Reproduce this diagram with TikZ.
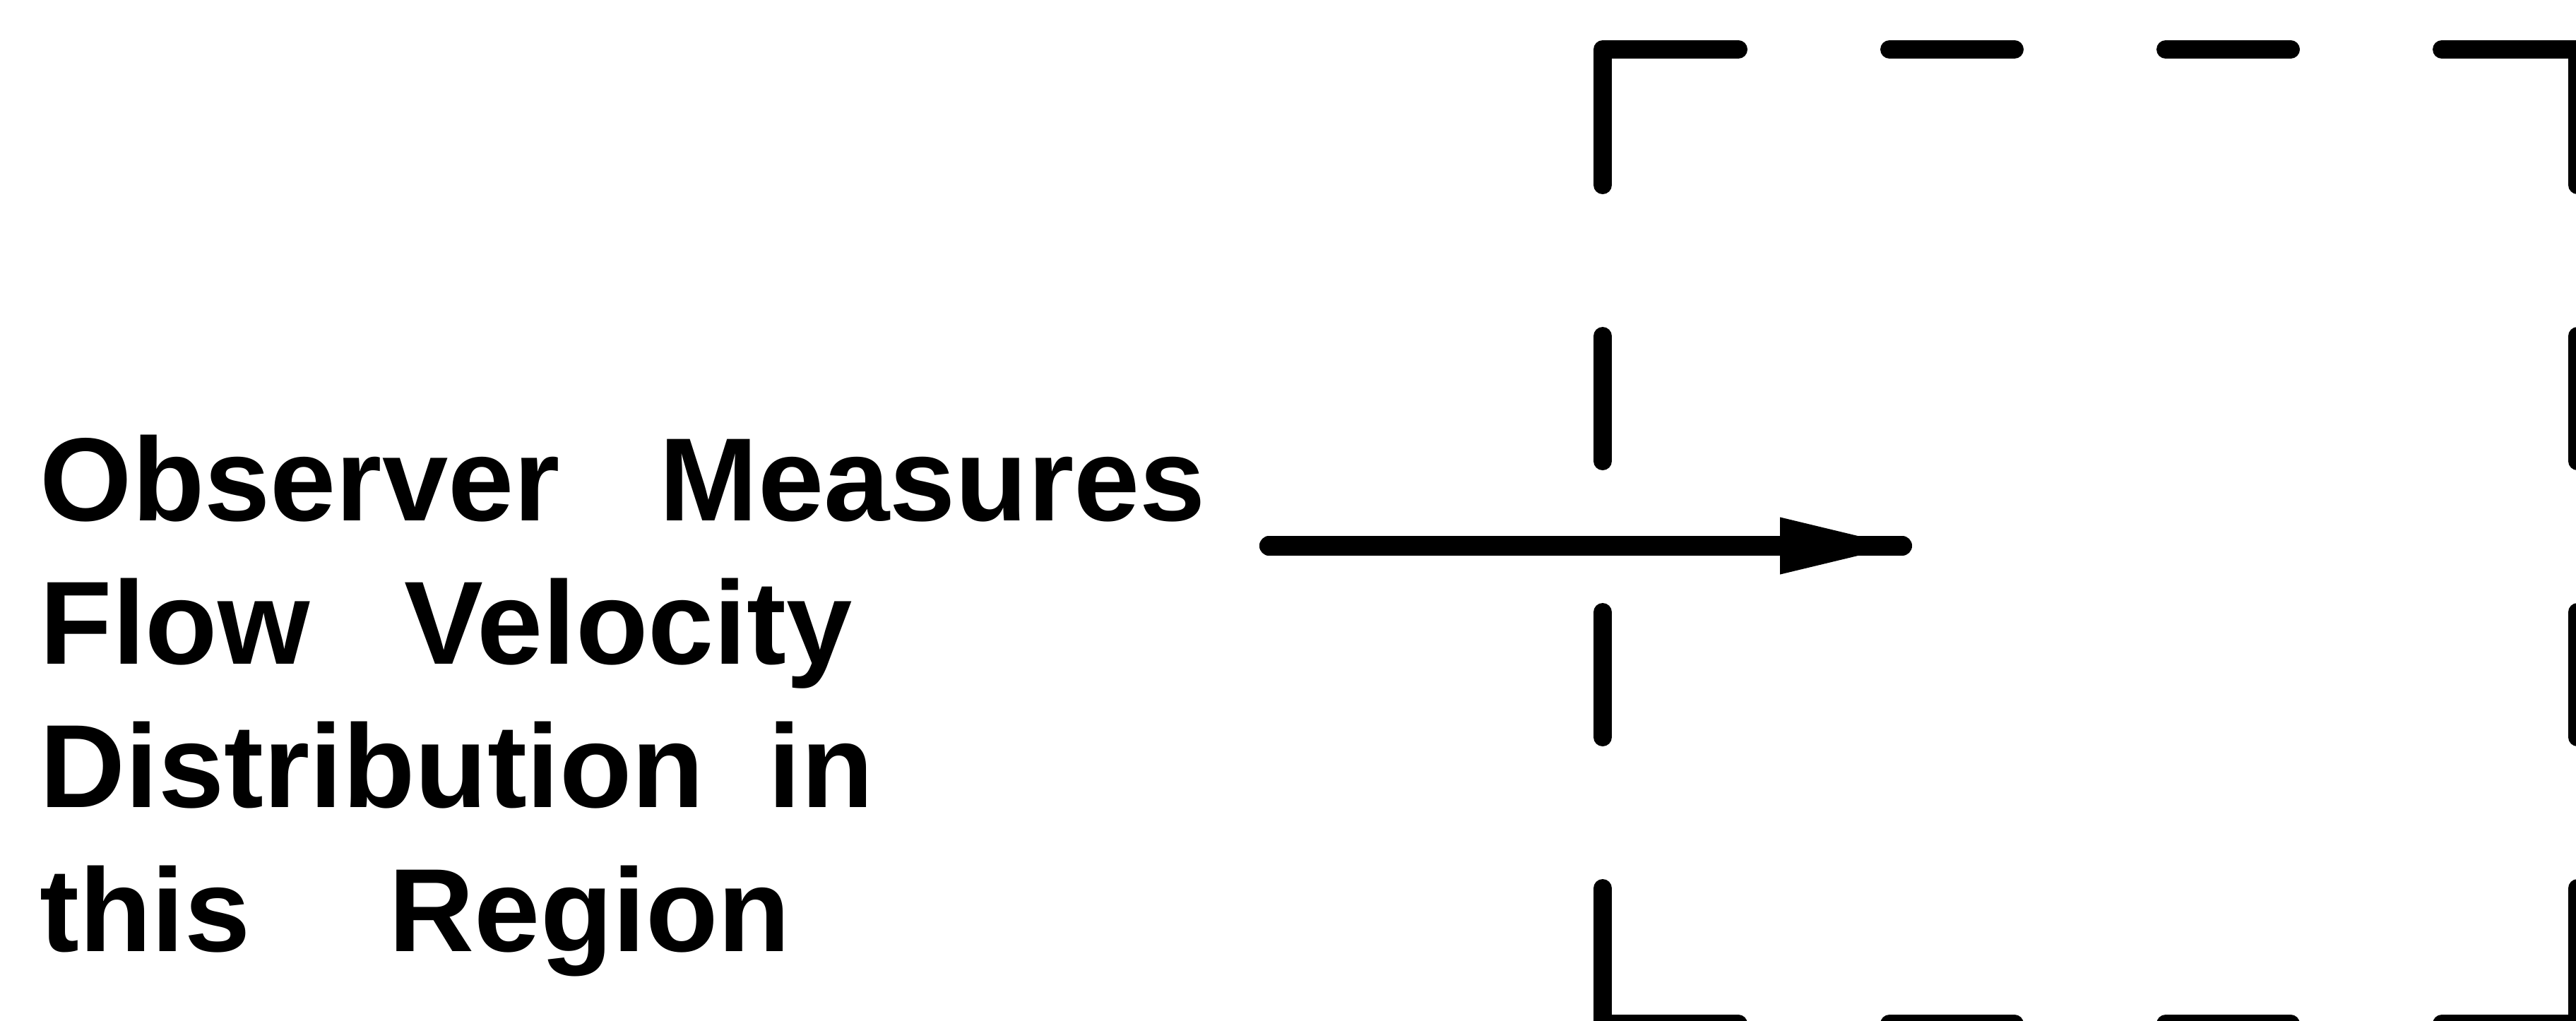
\documentclass[tikz,border=0pt]{standalone}
\usepackage{fontspec}
\setmainfont{Liberation Sans}
\definecolor{ink}{RGB}{0,0,0}
\usetikzlibrary{arrows.meta,positioning,calc}

\begin{document}
\begin{tikzpicture}[
  boxline/.style={ink,line width=0.26cm,line cap=round,line join=round,
    dash pattern=on 1.77cm off 2.14cm on 3.84cm off 2.14cm on 1.77cm off 2.14cm,
    dash phase=12.73cm},
  flowline/.style={ink,line width=0.28cm,line cap=round},
  lbl/.style={font=\fontsize{47.7}{57.8}\selectfont\bfseries,align=left,inner sep=0pt}]
\useasboundingbox (0,0) rectangle (36.47,-14.45);
% text (base = last line)
\node[lbl,anchor=base west] (obs) at (0.56,-13.47) {Observer\hspace{0.84em}Measures\\ Flow\hspace{0.8em}Velocity\\ Distribution\hspace{0.54em}in\\ this\hspace{1.17em}Region};
% control region
\draw[boxline] (22.69,-7.60) -- (22.69,-0.70) -- (36.49,-0.70) -- (36.49,-14.50) -- (22.69,-14.50) -- cycle;
% probe arrow
\coordinate (tail) at (17.97,-7.73);
\coordinate (tip) at (27.00,-7.73);
\coordinate (probe) at (26.93,-7.73);
\draw[flowline] (tail) -- (probe);
\draw[flowline,-{Triangle[length=1.8cm,width=0.72cm]}] (tail) -- (tip);
\end{tikzpicture}
\end{document}
